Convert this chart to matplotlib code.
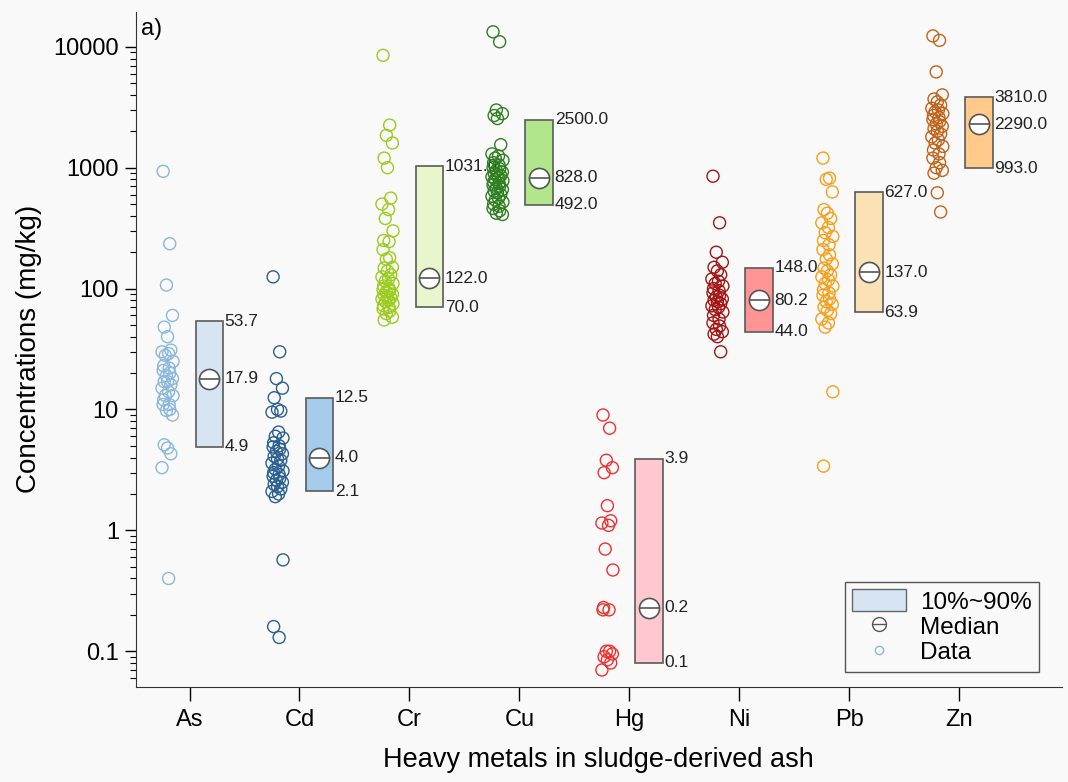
import numpy as np
import matplotlib
matplotlib.use('Agg')
from matplotlib import pyplot as plt
from matplotlib.patches import Patch
from matplotlib.lines import Line2D
from matplotlib.legend_handler import HandlerTuple
from matplotlib.ticker import FixedLocator, FixedFormatter, LogLocator, NullFormatter

plt.rcParams['font.family'] = ['Liberation Sans', 'DejaVu Sans']

metals = ['As', 'Cd', 'Cr', 'Cu', 'Hg', 'Ni', 'Pb', 'Zn']

as_data = [933, 235, 107, 60, 48, 40, 31, 30, 29, 28, 25, 23, 22, 21, 20, 19, 18, 17, 17, 16,
           15, 14, 13, 13, 12, 11, 11, 10, 9.8, 9.0, 5.1, 4.8, 4.3, 3.3, 0.40]
cd_data = [125, 30, 18, 15, 12.5, 10, 9.7, 9.5, 6.5, 6.0, 5.8, 5.3, 5.0, 4.9, 4.7, 4.5, 4.3, 4.1,
           3.9, 3.8, 3.6, 3.4, 3.2, 3.1, 3.0, 2.9, 2.8, 2.7, 2.6, 2.5, 2.4, 2.3, 2.2, 2.1, 2.0, 1.9,
           0.57, 0.16, 0.13]
cr_data = [8500, 2250, 1850, 1600, 1200, 1000, 560, 500, 450, 380, 300, 250, 245, 210, 180, 175,
           150, 148, 140, 130, 125, 120, 115, 110, 105, 100, 98, 96, 94, 90, 88, 86, 84, 82, 80,
           78, 75, 72, 70, 68, 65, 62, 58, 55]
cu_data = [13300, 11000, 3000, 2800, 2700, 2550, 1550, 1300, 1250, 1200, 1150, 1100, 1050, 1000,
           980, 950, 920, 900, 880, 860, 840, 820, 800, 780, 760, 740, 720, 700, 680, 660, 640,
           620, 600, 580, 560, 540, 520, 500, 480, 460, 440, 420, 410]
hg_data = [9.0, 7.0, 3.8, 3.3, 3.0, 1.6, 1.2, 1.15, 1.1, 0.70, 0.47, 0.23, 0.22, 0.22, 0.10,
           0.10, 0.095, 0.09, 0.085, 0.08, 0.07]
ni_data = [850, 350, 200, 165, 150, 140, 130, 120, 115, 110, 105, 100, 96, 92, 88, 85, 82, 80,
           78, 75, 72, 70, 67, 64, 60, 56, 52, 49, 46, 44, 42, 40, 30]
pb_data = [1200, 820, 800, 630, 450, 420, 380, 350, 320, 290, 270, 250, 230, 210, 190, 176, 160,
           148, 140, 130, 125, 118, 110, 105, 98, 92, 88, 82, 78, 74, 70, 66, 62, 56, 52, 48,
           14, 3.4]
zn_data = [12300, 11300, 6200, 4000, 3700, 3500, 3300, 3100, 3000, 2900, 2800, 2700, 2600, 2500,
           2400, 2300, 2200, 2100, 2000, 1900, 1800, 1700, 1600, 1500, 1400, 1300, 1200, 1100,
           1000, 950, 900, 620, 430]
all_data = [as_data, cd_data, cr_data, cu_data, hg_data, ni_data, pb_data, zn_data]

p10 = [4.9, 2.1, 70.0, 492.0, 0.08, 44.0, 63.9, 993.0]
p50 = [17.9, 4.0, 122.0, 828.0, 0.23, 80.2, 137.0, 2290.0]
p90 = [53.7, 12.5, 1031.0, 2500.0, 3.9, 148.0, 627.0, 3810.0]
lab10 = ['4.9', '2.1', '70.0', '492.0', '0.1', '44.0', '63.9', '993.0']
lab50 = ['17.9', '4.0', '122.0', '828.0', '0.2', '80.2', '137.0', '2290.0']
lab90 = ['53.7', '12.5', '1031.0', '2500.0', '3.9', '148.0', '627.0', '3810.0']

pt_colors = ['#8ab8dc', '#2a5f8f', '#9ccc1e', '#2f7f20', '#f03030', '#a31515', '#f5a01a', '#c0641a']
box_colors = ['#d7e5f3', '#a5cbeb', '#e9f5cc', '#b2e68c', '#ffc8d0', '#ff9494', '#fae2b6', '#ffc98a']

# fixed horizontal scatter pattern for the points
jit = [-0.04, 0.02, -0.01, 0.045, -0.03, 0.0, 0.03, -0.05, 0.01, -0.02, 0.05, -0.035, 0.015]

fig = plt.figure(figsize=(10.68, 7.82), dpi=100, facecolor='#f9f9f9')
ax = fig.add_axes([0.127, 0.122, 0.867, 0.863])
ax.set_facecolor('#f9f9f9')

bw = 0.25
for i, d in enumerate(all_data):
    xs = [i - 0.2 + jit[k % len(jit)] for k in range(len(d))]
    ax.scatter(xs, d, s=75, facecolors='none', edgecolors=pt_colors[i], linewidths=1.0, zorder=3)
    bx = i + 0.18
    ax.bar(bx, p90[i] - p10[i], bottom=p10[i], width=bw, color=box_colors[i],
           edgecolor='#5a5a5a', linewidth=1.2, zorder=2)
    ax.scatter([bx], [p50[i]], s=210, facecolors='white', edgecolors='#555555', linewidths=1.2, zorder=4)
    ax.plot([bx], [p50[i]], marker='_', ms=14, mew=1.2, color='#555555', zorder=5)
    tx = bx + bw / 2 + 0.015
    ax.text(tx, p90[i], lab90[i], fontsize=12.5, va='center', ha='left', color='#222222')
    ax.text(tx, p50[i], lab50[i], fontsize=12.5, va='center', ha='left', color='#222222')
    ax.text(tx, p10[i], lab10[i], fontsize=12.5, va='center', ha='left', color='#222222')

ax.set_yscale('log')
ax.set_ylim(0.051, 19500)
ax.set_xlim(-0.49, 7.93)
ax.set_xticks(range(len(metals)))
ax.set_xticklabels(metals, fontsize=17)
yt = [0.1, 1, 10, 100, 1000, 10000]
ax.yaxis.set_major_locator(FixedLocator(yt))
ax.yaxis.set_major_formatter(FixedFormatter(['0.1', '1', '10', '100', '1000', '10000']))
ax.yaxis.set_minor_locator(LogLocator(base=10, subs=np.arange(2, 10)))
ax.yaxis.set_minor_formatter(NullFormatter())
ax.tick_params(axis='y', labelsize=17, length=8, width=1, pad=4)
ax.tick_params(axis='y', which='minor', length=4, width=0.8)
ax.tick_params(axis='x', length=10, width=1, pad=6)
for s in ['top', 'right']:
    ax.spines[s].set_visible(False)
for s in ['left', 'bottom']:
    ax.spines[s].set_color('#333333')

ax.set_ylabel('Concentrations (mg/kg)', fontsize=20, labelpad=8)
ax.set_xlabel('Heavy metals in sludge-derived ash', fontsize=19.5, labelpad=12)
ax.text(0.006, 0.99, 'a)', transform=ax.transAxes, fontsize=17, va='top', ha='left')

h_box = Patch(facecolor='#d7e5f3', edgecolor='#666666', linewidth=1.0)
h_med = (Line2D([], [], marker='o', ms=10, mfc='white', mec='#555555', ls='none'),
         Line2D([], [], marker='_', ms=10, mec='#555555', ls='none'))
h_dat = Line2D([], [], marker='o', ms=6, mfc='none', mec='#8ab8dc', ls='none')
leg = ax.legend([h_box, h_med, h_dat], ['10%~90%', 'Median', 'Data'],
                handler_map={tuple: HandlerTuple(ndivide=1, pad=0)},
                loc='lower right', bbox_to_anchor=(0.976, 0.022), fontsize=17.5, fancybox=False,
                framealpha=1, edgecolor='#555555', facecolor='#f9f9f9', handlelength=2.2,
                handleheight=1.0, handletextpad=0.6, labelspacing=0.05, borderpad=0.3,
                borderaxespad=0)
leg.get_frame().set_linewidth(1.0)

fig.savefig('out.png', dpi=100, facecolor=fig.get_facecolor())
